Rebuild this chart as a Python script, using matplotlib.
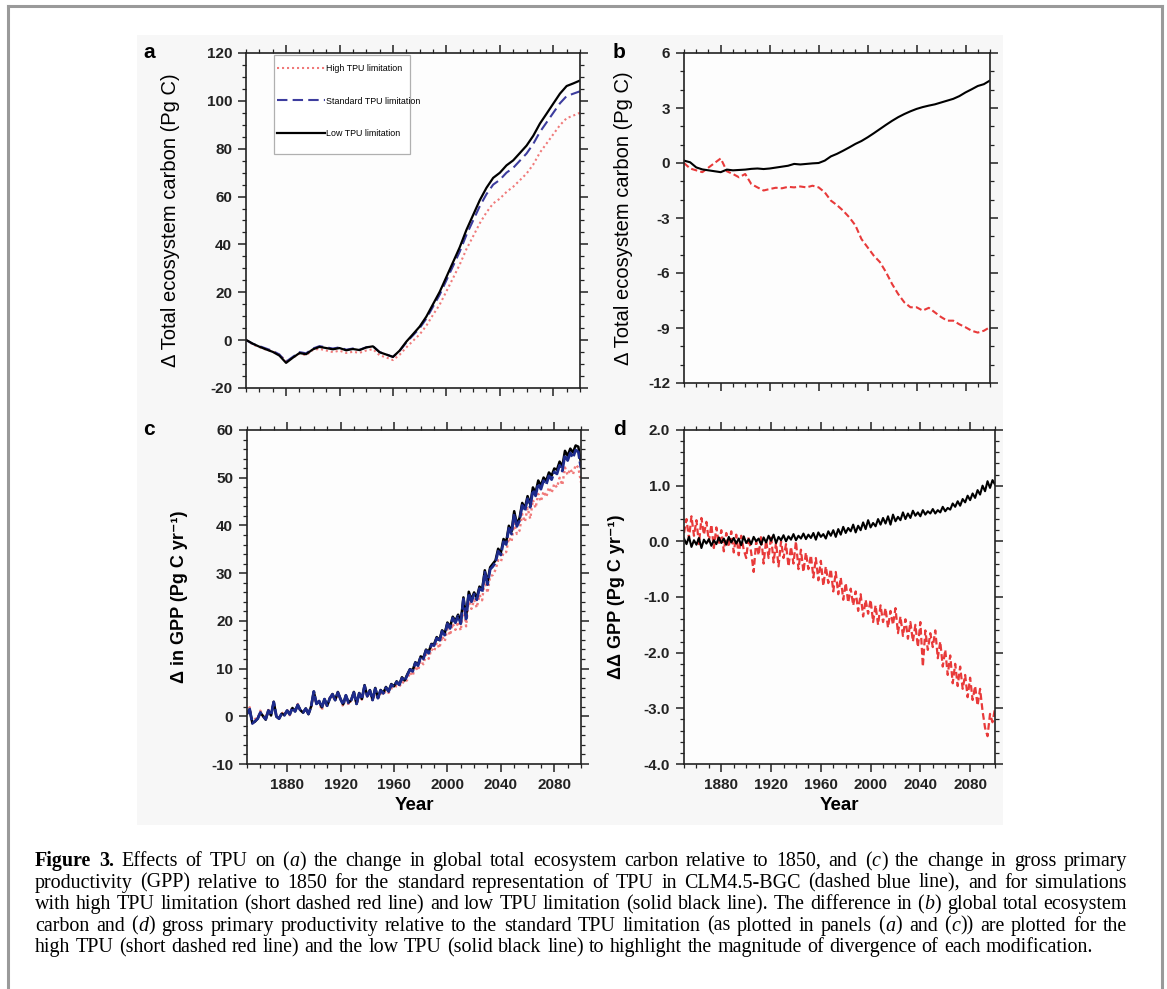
import numpy as np
import matplotlib
matplotlib.use("Agg")
import matplotlib.pyplot as plt
from matplotlib.ticker import MultipleLocator
from matplotlib.lines import Line2D
from matplotlib.patches import Rectangle

plt.rcParams['font.family'] = ['Liberation Sans', 'DejaVu Sans']

# ---------------- data ----------------
# panels a/b : 5-year resolution, 1850..2100
years5 = np.arange(1850, 2101, 5)
# standard TPU: change in total ecosystem carbon (Pg C)
a_std = [0.0, -1.5, -2.5, -3.5, -4.5, -6.0, -9.0, -7.0, -5.0, -5.5,
         -3.5, -2.5, -3.0, -3.5, -3.0, -4.0, -3.5, -4.0, -3.0, -2.5,
         -5.0, -6.0, -7.0, -4.5, -1.0, 2.0, 5.0, 9.0, 14.0, 19.0,
         25.0, 31.0, 37.0, 44.0, 50.0, 56.0, 61.0, 65.0, 67.0, 70.0,
         72.0, 75.0, 78.0, 82.0, 87.0, 91.0, 95.0, 99.0, 102.0, 103.0,
         104.0]
# difference to standard (panel b)
b_low = [0.13, 0.04, -0.24, -0.35, -0.40, -0.45, -0.50, -0.36, -0.40, -0.38,
         -0.36, -0.32, -0.30, -0.33, -0.30, -0.25, -0.20, -0.15, -0.05, -0.08,
         -0.05, -0.02, 0.00, 0.13, 0.36, 0.50, 0.67, 0.85, 1.04, 1.20,
         1.40, 1.62, 1.85, 2.08, 2.30, 2.50, 2.67, 2.82, 2.95, 3.05,
         3.13, 3.20, 3.30, 3.40, 3.50, 3.65, 3.85, 4.02, 4.20, 4.30,
         4.50]
b_high = [0.00, -0.30, -0.40, -0.50, -0.25, 0.00, 0.25, -0.45, -0.60, -0.78,
          -0.60, -1.15, -1.33, -1.50, -1.42, -1.35, -1.38, -1.30, -1.33, -1.28,
          -1.33, -1.24, -1.33, -1.60, -2.05, -2.30, -2.60, -2.96, -3.40, -4.15,
          -4.60, -5.05, -5.40, -5.95, -6.60, -7.15, -7.60, -7.87, -7.87, -8.05,
          -7.90, -8.15, -8.40, -8.60, -8.60, -8.80, -8.96, -9.15, -9.25, -9.15,
          -8.95]

# panels c/d : 2-year resolution, 1850..2100
years2 = np.arange(1850, 2101, 2)
c_std = [0.5, 1.5, -1.5, -1.0, -0.5, 0.8, 0.0, -0.6, 1.2, 0.2,
         3.0, 0.0, -0.5, 0.6, 0.2, 1.2, 0.4, 1.8, 1.0, 2.4,
         1.2, 0.8, 1.6, 0.5, 2.0, 5.2, 2.6, 3.2, 1.8, 3.6,
         2.2, 3.8, 4.6, 3.4, 5.0, 3.6, 2.4, 4.4, 2.8, 3.4,
         5.0, 2.6, 4.8, 3.6, 6.4, 4.2, 5.4, 3.4, 5.8, 3.8,
         5.4, 4.8, 6.0, 5.2, 6.6, 6.2, 7.2, 6.6, 8.0, 7.4,
         8.6, 9.8, 9.4, 11.2, 10.6, 12.4, 12.0, 13.8, 13.2, 15.0,
         14.8, 16.4, 15.6, 17.8, 17.0, 19.4, 18.4, 20.6, 19.6, 21.0,
         19.4, 24.6, 20.4, 25.8, 24.0, 25.6, 24.4, 26.8, 26.0, 30.2,
         27.6, 30.8, 31.4, 32.2, 34.6, 33.8, 36.6, 36.0, 39.4, 38.2,
         42.4, 39.8, 41.0, 44.2, 43.0, 45.6, 43.8, 47.4, 46.2, 48.8,
         47.6, 49.4, 48.6, 50.4, 49.6, 51.2, 50.8, 52.6, 51.4, 54.8,
         53.6, 55.2, 54.2, 55.8, 55.4, 52.0]
d_low = [0.05, -0.05, 0.08, -0.10, 0.02, -0.06, 0.06, -0.12, 0.03, -0.04,
         0.04, -0.08, 0.02, -0.05, 0.07, -0.03, 0.05, -0.06, 0.08, -0.02,
         0.06, -0.04, 0.05, -0.07, 0.09, -0.03, 0.04, -0.05, 0.08, 0.00,
         0.05, -0.06, 0.07, -0.02, 0.10, 0.01, 0.12, -0.03, 0.08, 0.02,
         0.11, 0.00, 0.09, 0.03, 0.13, 0.02, 0.10, 0.05, 0.14, 0.04,
         0.12, 0.06, 0.15, 0.03, 0.16, 0.08, 0.13, 0.05, 0.18, 0.10,
         0.20, 0.08, 0.22, 0.12, 0.26, 0.15, 0.24, 0.18, 0.30, 0.16,
         0.28, 0.20, 0.34, 0.22, 0.38, 0.25, 0.33, 0.27, 0.40, 0.30,
         0.42, 0.32, 0.45, 0.30, 0.48, 0.36, 0.44, 0.38, 0.52, 0.40,
         0.50, 0.42, 0.55, 0.46, 0.52, 0.45, 0.56, 0.48, 0.54, 0.50,
         0.58, 0.50, 0.56, 0.52, 0.62, 0.54, 0.60, 0.57, 0.68, 0.62,
         0.72, 0.64, 0.76, 0.70, 0.82, 0.74, 0.86, 0.78, 0.92, 0.84,
         1.00, 0.90, 1.08, 0.96, 1.10, 1.02]
d_high = [0.15, 0.40, 0.05, 0.45, 0.10, 0.38, -0.05, 0.42, 0.12, 0.35,
          0.00, 0.30, -0.12, 0.25, -0.05, 0.20, -0.18, 0.15, -0.10, 0.18,
          -0.20, 0.12, -0.25, 0.10, -0.15, -0.30, 0.08, -0.20, -0.55, 0.00,
          -0.25, 0.10, -0.40, 0.02, -0.30, 0.10, -0.38, -0.02, -0.45, 0.00,
          -0.30, -0.05, -0.45, -0.10, -0.40, 0.00, -0.50, -0.15, -0.55, -0.20,
          -0.50, -0.25, -0.65, -0.30, -0.70, -0.35, -0.80, -0.45, -0.75, -0.50,
          -0.90, -0.55, -0.95, -0.65, -1.05, -0.75, -1.10, -0.85, -1.15, -0.90,
          -1.25, -0.95, -1.35, -1.05, -1.30, -1.05, -1.45, -1.15, -1.50, -1.15,
          -1.45, -1.20, -1.55, -1.25, -1.50, -1.20, -1.65, -1.35, -1.70, -1.40,
          -1.75, -1.45, -1.80, -1.50, -1.90, -1.45, -2.25, -1.60, -1.95, -1.65,
          -1.90, -1.60, -2.10, -1.80, -2.25, -1.95, -2.40, -2.05, -2.55, -2.20,
          -2.60, -2.25, -2.65, -2.40, -2.80, -2.45, -2.85, -2.60, -2.95, -2.65,
          -3.05, -3.35, -3.50, -3.10, -3.25, -3.00]

# panels a/c: low and high runs = standard + difference shown in b/d
a_std = np.array(a_std); b_low = np.array(b_low); b_high = np.array(b_high)
c_std = np.array(c_std); d_low = np.array(d_low); d_high = np.array(d_high)
a_low = a_std + b_low
a_high = a_std + b_high
c_low = c_std + d_low
c_high = c_std + d_high

xticks = [1880, 1920, 1960, 2000, 2040, 2080]
a_yticks = [-20, 0, 20, 40, 60, 80, 100, 120]
b_yticks = [-12, -9, -6, -3, 0, 3, 6]
c_yticks = [-10, 0, 10, 20, 30, 40, 50, 60]
d_yticks = [-4.0, -3.0, -2.0, -1.0, 0.0, 1.0, 2.0]

legend_labels = ["High TPU limitation", "Standard TPU limitation", "Low TPU limitation"]

# ---------------- figure ----------------
W, H = 1167, 989
fig = plt.figure(figsize=(W / 100, H / 100), dpi=100)
fig.patch.set_facecolor('white')


def fx(px):
    return px / W


def fy(py):
    return 1 - py / H


# light backdrop of the pasted chart image
fig.add_artist(Rectangle((fx(137), fy(825)), (1003 - 137) / W, (825 - 35) / H,
                         transform=fig.transFigure, facecolor='#f7f7f7',
                         edgecolor='none', zorder=-10))

# frame around figure + caption
for xs, ys in [([8, 8], [6, 989]), ([8, 1162], [6, 6]), ([1162, 1162], [6, 989])]:
    fig.add_artist(Line2D([fx(v) for v in xs], [fy(v) for v in ys],
                          transform=fig.transFigure, color='#9a9a9a', lw=2.2))


def make_ax(l, t, r, b):
    return fig.add_axes([fx(l), fy(b), (r - l) / W, (b - t) / H])


def style(ax, yticks, ymin, ymax, ymaj_fmt, yminor, show_x):
    ax.set_facecolor('#fdfdfd')
    ax.set_xlim(1850, 2100)
    ax.set_ylim(ymin, ymax)
    if show_x:
        ax.set_xticks(xticks, labels=[str(v) for v in xticks], fontweight='bold', fontsize=11)
    else:
        ax.set_xticks(xticks, labels=['' for v in xticks])
    ax.set_yticks(yticks, labels=[ymaj_fmt % v for v in yticks], fontweight='bold', fontsize=11)
    ax.xaxis.set_minor_locator(MultipleLocator(10))
    ax.yaxis.set_minor_locator(MultipleLocator(yminor))
    ax.tick_params(which='both', direction='out', top=True, right=True,
                   labeltop=False, labelright=False, colors='#222222')
    ax.tick_params(which='major', length=6, width=1.1, pad=4)
    ax.tick_params(which='minor', length=3, width=0.9)
    for sp in ax.spines.values():
        sp.set_linewidth(1.2)
        sp.set_color('#222222')


RED_LIGHT = '#f07a7a'
RED = '#e83a3a'
BLUE_A = '#3d3d9e'
BLUE_C = '#1d2b8c'

# ---- panel a ----
axa = make_ax(246, 53, 580, 388)
style(axa, a_yticks, -20, 120, '%d', 5, False)
ha, = axa.plot(years5, a_high, color=RED_LIGHT, lw=1.5, ls=(0, (1, 1.4)), label=legend_labels[0])
hs, = axa.plot(years5, a_std, color=BLUE_A, lw=1.5, ls=(0, (5, 2.5)), label=legend_labels[1])
hl, = axa.plot(years5, a_low, color='black', lw=1.6, label=legend_labels[2])
axa.set_ylabel('\u0394 Total ecosystem carbon (Pg C)', fontsize=14.5)
axa.yaxis.set_label_coords((180 - 246) / 334, 0.5)
axa.add_patch(Rectangle(((274 - 246) / 334, (388 - 154) / 335), (410 - 274) / 334, (154 - 55) / 335,
                        transform=axa.transAxes, facecolor='white', edgecolor='#b0b0b0',
                        lw=0.9, zorder=5))
leg = axa.legend(handles=[ha, hs, hl], loc='upper left', frameon=False,
                 bbox_to_anchor=((277 - 246) / 334, (388 - 64) / 335),
                 borderpad=0, borderaxespad=0, fontsize=6.4, labelspacing=2.65,
                 handlelength=5.4, handletextpad=0.15)
leg.set_zorder(6)

# ---- panel b ----
axb = make_ax(684, 53, 990, 383)
style(axb, b_yticks, -12, 6, '%d', 1, False)
axb.plot(years5, b_high, color=RED, lw=1.5, ls=(0, (3, 1.5)))
axb.plot(years5, b_low, color='black', lw=1.5)
axb.set_ylabel('\u0394 Total ecosystem carbon (Pg C)', fontsize=14.5)
axb.yaxis.set_label_coords((633 - 684) / 306, 0.5)

# ---- panel c ----
axc = make_ax(247, 430, 581, 764)
style(axc, c_yticks, -10, 60, '%d', 2, True)
axc.plot(years2, c_high, color=RED_LIGHT, lw=1.7, ls=(0, (1, 1.3)))
axc.plot(years2, c_low, color='black', lw=1.8)
axc.plot(years2, c_std, color=BLUE_C, lw=2.0, ls=(0, (6, 1)))
axc.set_ylabel('\u0394 in GPP (Pg C yr\u207b\u00b9)', fontsize=13, fontweight='bold')
axc.yaxis.set_label_coords((188 - 247) / 334, 0.5)
axc.set_xlabel('Year', fontsize=13.5, fontweight='bold', labelpad=4)

# ---- panel d ----
axd = make_ax(684, 430, 995, 764)
style(axd, d_yticks, -4, 2, '%.1f', 0.2, True)
axd.plot(years2, d_high, color=RED, lw=1.6, ls=(0, (3, 1.5)))
axd.plot(years2, d_low, color='black', lw=1.5)
axd.set_ylabel('\u0394\u0394 GPP (Pg C yr\u207b\u00b9)', fontsize=13, fontweight='bold')
axd.yaxis.set_label_coords((625 - 684) / 311, 0.5)
axd.set_xlabel('Year', fontsize=13.5, fontweight='bold', labelpad=4)

# panel letters
for letter, px, py in [('a', 143, 52), ('b', 613, 52), ('c', 143, 430), ('d', 613, 430)]:
    fig.text(fx(px), fy(py), letter, fontsize=15, fontweight='bold', ha='left', va='center')

# ---------------- caption (justified) ----------------
caption_lines = [
    "^Figure ^3. Effects of TPU on (|a|) the change in global total ecosystem carbon relative to 1850, and (|c|) the change in gross primary",
    "productivity (GPP) relative to 1850 for the standard representation of TPU in CLM4.5-BGC (dashed blue line), and for simulations",
    "with high TPU limitation (short dashed red line) and low TPU limitation (solid black line). The difference in (|b|) global total ecosystem",
    "carbon and (|d|) gross primary productivity relative to the standard TPU limitation (as plotted in panels (|a|) and (|c|)) are plotted for the",
    "high TPU (short dashed red line) and the low TPU (solid black line) to highlight the magnitude of divergence of each modification.",
]
F0 = 12.0
X_LEFT, X_RIGHT = 35, 1127
fig.canvas.draw()
renderer = fig.canvas.get_renderer()

all_lines = []
for i, line in enumerate(caption_lines):
    words = []
    for w in line.split(' '):
        bold = w.startswith('^')
        w = w.lstrip('^')
        parts = w.split('|')
        pieces = []
        for k, p in enumerate(parts):
            if p == '':
                continue
            t = fig.text(0, 0, p, fontsize=F0, va='baseline', ha='left',
                         family=['Liberation Serif', 'DejaVu Serif'],
                         fontweight='bold' if bold else 'normal',
                         fontstyle='italic' if k % 2 == 1 else 'normal')
            pieces.append(t)
        words.append(pieces)
    all_lines.append(words)


def measure(words):
    return [[t.get_window_extent(renderer=renderer).width for t in wd] for wd in words]


# choose the font size so that the widest line fits with near-natural spacing
ratios = []
for words in all_lines:
    ws = measure(words)
    nat = sum(sum(w) for w in ws) + (len(words) - 1) * 0.27 * F0 * 100 / 72
    ratios.append((X_RIGHT - X_LEFT) / nat)
CAP_FS = min(F0 * min(ratios) * 0.995, 15.5)
for words in all_lines:
    for wd in words:
        for t in wd:
            t.set_fontsize(CAP_FS)
space_px = 0.27 * CAP_FS * 100 / 72

for i, words in enumerate(all_lines):
    ybase = 866 + 21.6 * i
    ws = measure(words)
    widths = [sum(w) + 0.3 * (len(w) - 1) for w in ws]
    total = sum(widths)
    if i < len(all_lines) - 1:
        gap = (X_RIGHT - X_LEFT - total) / (len(words) - 1)
    else:
        gap = space_px
    x = X_LEFT
    for wd, wl, wsum in zip(words, ws, widths):
        xx = x
        for t, wpx in zip(wd, wl):
            t.set_position((fx(xx), fy(ybase)))
            xx += wpx + 0.3
        x += wsum + gap

fig.savefig('out.png', dpi=100)
